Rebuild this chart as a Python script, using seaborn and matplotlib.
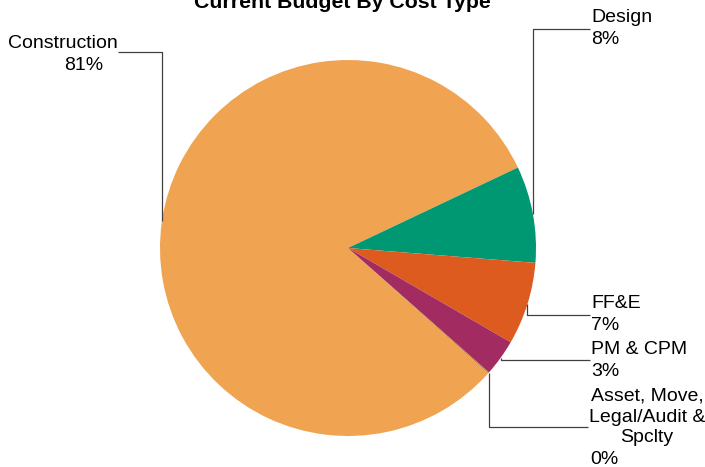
import numpy as np
import matplotlib
matplotlib.use("Agg")
import matplotlib.pyplot as plt
import seaborn as sns

categories = ["Construction", "Design", "FF&E", "PM & CPM", "Asset, Move,\nLegal/Audit &\nSpclty"]
values = [81.35, 8.3, 7.1, 3.15, 0.1]
pct_labels = ["81%", "8%", "7%", "3%", "0%"]
colors = ["#F0A350", "#009873", "#DE5B20", "#A22B62", "#C0802F"]

sns.set_theme(style="white")
plt.rcParams['font.family'] = ['Liberation Sans', 'DejaVu Sans']

W, H = 705, 467
fig = plt.figure(figsize=(W / 100, H / 100), dpi=100)
ax = fig.add_axes([0, 0, 1, 1])

cx, cy, R = 348, 248, 188
start = -41.8
wedges, _ = ax.pie(values, colors=colors, startangle=start, counterclock=False,
                   center=(cx, -cy), radius=R, frame=True,
                   wedgeprops=dict(linewidth=0))
ax.set_xlim(0, W)
ax.set_ylim(-H, 0)
ax.set_aspect("equal")
ax.axis("off")

def edge_point(w):
    mid = np.deg2rad((w.theta1 + w.theta2) / 2)
    return cx + R * np.cos(mid), -cy + R * np.sin(mid)

fs = 14
lc = "#404040"
layout = [
    dict(tx=118, ly=52, side="left"),
    dict(tx=590, ly=29, side="right"),
    dict(tx=590, ly=315, side="right"),
    dict(tx=590, ly=360, side="right"),
    dict(tx=588, ly=427, side="right"),
]
for w, cat, pct, lay in zip(wedges, categories, pct_labels, layout):
    ex, ey = edge_point(w)
    ly = -lay["ly"]
    ax.plot([ex, ex, lay["tx"]], [ey, ly, ly], color=lc, lw=0.9, solid_capstyle="butt")
    if lay["side"] == "left":
        ax.text(lay["tx"], ly + 9, cat, ha="right", va="center", fontsize=fs, color="black")
        ax.text(lay["tx"] - 34, ly - 13, pct, ha="center", va="center", fontsize=fs, color="black")
    elif "\n" in cat:
        lines = cat.split("\n")
        for i, line in enumerate(lines):
            ax.text(647, -396 - 21 * i, line, ha="center", va="center", fontsize=fs, color="black")
        ax.text(lay["tx"] + 2, -396 - 21 * len(lines), pct, ha="left", va="center",
                fontsize=fs, color="black")
    else:
        ax.text(lay["tx"] + 1, ly + 11, cat, ha="left", va="center", fontsize=fs, color="black")
        ax.text(lay["tx"] + 1, ly - 11, pct, ha="left", va="center", fontsize=fs, color="black")

fig.text(342 / W, 1.0 - 3 / H, "Current Budget By Cost Type", ha="center", va="center",
         fontsize=15.3, fontweight="bold", color="black")

fig.savefig("out.png", dpi=100)
